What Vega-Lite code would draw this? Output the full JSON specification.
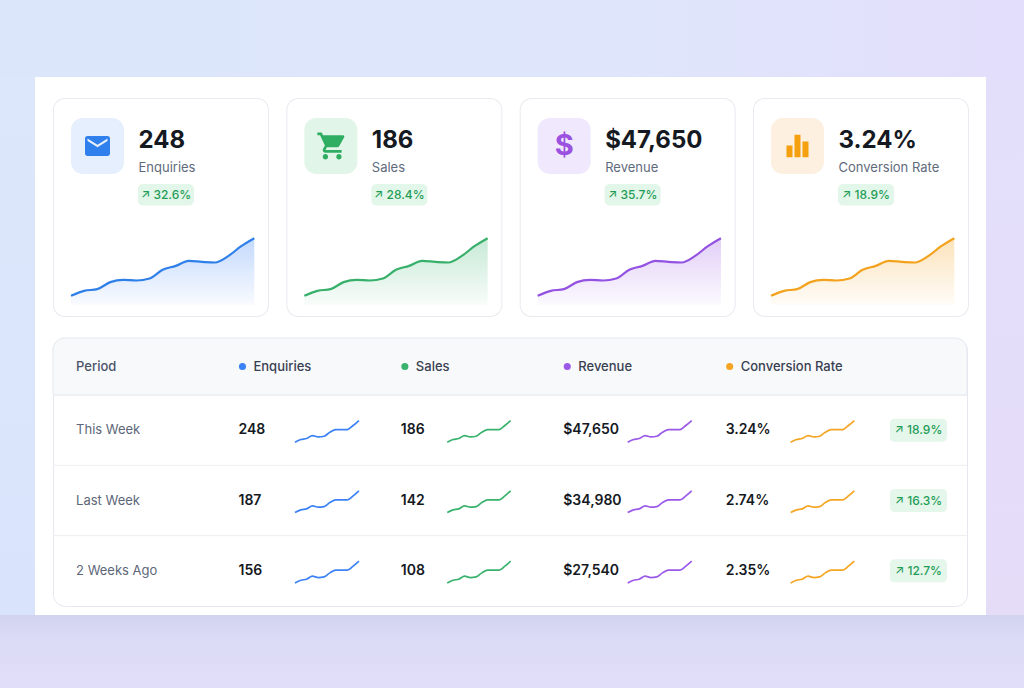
{
  "$schema": "https://vega.github.io/schema/vega-lite/v6.json",
  "padding": 0,
  "background": "#ffffff",
  "config": {"view": {"stroke": null}, "font": "Inter"},
  "datasets": {
    "kpi": [
      {"metric": "Enquiries", "value": "248", "change": "↗ 32.6%"},
      {"metric": "Sales", "value": "186", "change": "↗ 28.4%"},
      {"metric": "Revenue", "value": "$47,650", "change": "↗ 35.7%"},
      {"metric": "Conversion Rate", "value": "3.24%", "change": "↗ 18.9%"}
    ],
    "weekly": [
      {"period": "This Week", "Enquiries": "248", "Sales": "186", "Revenue": "$47,650", "Conversion Rate": "3.24%", "change": "↗ 18.9%"},
      {"period": "Last Week", "Enquiries": "187", "Sales": "142", "Revenue": "$34,980", "Conversion Rate": "2.74%", "change": "↗ 16.3%"},
      {"period": "2 Weeks Ago", "Enquiries": "156", "Sales": "108", "Revenue": "$27,540", "Conversion Rate": "2.35%", "change": "↗ 12.7%"}
    ],
    "trend": [
      {"metric": "Enquiries", "i": 0, "v": 27}, {"metric": "Enquiries", "i": 1, "v": 42}, {"metric": "Enquiries", "i": 2, "v": 47},
      {"metric": "Enquiries", "i": 3, "v": 68}, {"metric": "Enquiries", "i": 4, "v": 75}, {"metric": "Enquiries", "i": 5, "v": 73},
      {"metric": "Enquiries", "i": 6, "v": 79}, {"metric": "Enquiries", "i": 7, "v": 105}, {"metric": "Enquiries", "i": 8, "v": 117},
      {"metric": "Enquiries", "i": 9, "v": 132}, {"metric": "Enquiries", "i": 10, "v": 129}, {"metric": "Enquiries", "i": 11, "v": 127},
      {"metric": "Enquiries", "i": 12, "v": 146}, {"metric": "Enquiries", "i": 13, "v": 176}, {"metric": "Enquiries", "i": 14, "v": 200},
      {"metric": "Sales", "i": 0, "v": 27}, {"metric": "Sales", "i": 1, "v": 42}, {"metric": "Sales", "i": 2, "v": 47},
      {"metric": "Sales", "i": 3, "v": 68}, {"metric": "Sales", "i": 4, "v": 75}, {"metric": "Sales", "i": 5, "v": 73},
      {"metric": "Sales", "i": 6, "v": 79}, {"metric": "Sales", "i": 7, "v": 105}, {"metric": "Sales", "i": 8, "v": 117},
      {"metric": "Sales", "i": 9, "v": 132}, {"metric": "Sales", "i": 10, "v": 129}, {"metric": "Sales", "i": 11, "v": 127},
      {"metric": "Sales", "i": 12, "v": 146}, {"metric": "Sales", "i": 13, "v": 176}, {"metric": "Sales", "i": 14, "v": 200},
      {"metric": "Revenue", "i": 0, "v": 27}, {"metric": "Revenue", "i": 1, "v": 42}, {"metric": "Revenue", "i": 2, "v": 47},
      {"metric": "Revenue", "i": 3, "v": 68}, {"metric": "Revenue", "i": 4, "v": 75}, {"metric": "Revenue", "i": 5, "v": 73},
      {"metric": "Revenue", "i": 6, "v": 79}, {"metric": "Revenue", "i": 7, "v": 105}, {"metric": "Revenue", "i": 8, "v": 117},
      {"metric": "Revenue", "i": 9, "v": 132}, {"metric": "Revenue", "i": 10, "v": 129}, {"metric": "Revenue", "i": 11, "v": 127},
      {"metric": "Revenue", "i": 12, "v": 146}, {"metric": "Revenue", "i": 13, "v": 176}, {"metric": "Revenue", "i": 14, "v": 200},
      {"metric": "Conversion Rate", "i": 0, "v": 27}, {"metric": "Conversion Rate", "i": 1, "v": 42}, {"metric": "Conversion Rate", "i": 2, "v": 47},
      {"metric": "Conversion Rate", "i": 3, "v": 68}, {"metric": "Conversion Rate", "i": 4, "v": 75}, {"metric": "Conversion Rate", "i": 5, "v": 73},
      {"metric": "Conversion Rate", "i": 6, "v": 79}, {"metric": "Conversion Rate", "i": 7, "v": 105}, {"metric": "Conversion Rate", "i": 8, "v": 117},
      {"metric": "Conversion Rate", "i": 9, "v": 132}, {"metric": "Conversion Rate", "i": 10, "v": 129}, {"metric": "Conversion Rate", "i": 11, "v": 127},
      {"metric": "Conversion Rate", "i": 12, "v": 146}, {"metric": "Conversion Rate", "i": 13, "v": 176}, {"metric": "Conversion Rate", "i": 14, "v": 200}
    ],
    "weeklyTrend": [
      {"metric": "Enquiries", "i": 0, "This Week": 5, "Last Week": 5, "2 Weeks Ago": 5},
      {"metric": "Enquiries", "i": 1, "This Week": 13, "Last Week": 13, "2 Weeks Ago": 13},
      {"metric": "Enquiries", "i": 2, "This Week": 16, "Last Week": 16, "2 Weeks Ago": 16},
      {"metric": "Enquiries", "i": 3, "This Week": 25, "Last Week": 25, "2 Weeks Ago": 25},
      {"metric": "Enquiries", "i": 4, "This Week": 21, "Last Week": 21, "2 Weeks Ago": 21},
      {"metric": "Enquiries", "i": 5, "This Week": 23, "Last Week": 23, "2 Weeks Ago": 23},
      {"metric": "Enquiries", "i": 6, "This Week": 35, "Last Week": 35, "2 Weeks Ago": 35},
      {"metric": "Enquiries", "i": 7, "This Week": 43, "Last Week": 43, "2 Weeks Ago": 43},
      {"metric": "Enquiries", "i": 8, "This Week": 43, "Last Week": 43, "2 Weeks Ago": 43},
      {"metric": "Enquiries", "i": 9, "This Week": 43, "Last Week": 43, "2 Weeks Ago": 43},
      {"metric": "Enquiries", "i": 10, "This Week": 55, "Last Week": 55, "2 Weeks Ago": 55},
      {"metric": "Enquiries", "i": 11, "This Week": 70, "Last Week": 70, "2 Weeks Ago": 70},
      {"metric": "Sales", "i": 0, "This Week": 5, "Last Week": 5, "2 Weeks Ago": 5},
      {"metric": "Sales", "i": 1, "This Week": 13, "Last Week": 13, "2 Weeks Ago": 13},
      {"metric": "Sales", "i": 2, "This Week": 16, "Last Week": 16, "2 Weeks Ago": 16},
      {"metric": "Sales", "i": 3, "This Week": 25, "Last Week": 25, "2 Weeks Ago": 25},
      {"metric": "Sales", "i": 4, "This Week": 21, "Last Week": 21, "2 Weeks Ago": 21},
      {"metric": "Sales", "i": 5, "This Week": 23, "Last Week": 23, "2 Weeks Ago": 23},
      {"metric": "Sales", "i": 6, "This Week": 35, "Last Week": 35, "2 Weeks Ago": 35},
      {"metric": "Sales", "i": 7, "This Week": 43, "Last Week": 43, "2 Weeks Ago": 43},
      {"metric": "Sales", "i": 8, "This Week": 43, "Last Week": 43, "2 Weeks Ago": 43},
      {"metric": "Sales", "i": 9, "This Week": 43, "Last Week": 43, "2 Weeks Ago": 43},
      {"metric": "Sales", "i": 10, "This Week": 55, "Last Week": 55, "2 Weeks Ago": 55},
      {"metric": "Sales", "i": 11, "This Week": 70, "Last Week": 70, "2 Weeks Ago": 70},
      {"metric": "Revenue", "i": 0, "This Week": 5, "Last Week": 5, "2 Weeks Ago": 5},
      {"metric": "Revenue", "i": 1, "This Week": 13, "Last Week": 13, "2 Weeks Ago": 13},
      {"metric": "Revenue", "i": 2, "This Week": 16, "Last Week": 16, "2 Weeks Ago": 16},
      {"metric": "Revenue", "i": 3, "This Week": 25, "Last Week": 25, "2 Weeks Ago": 25},
      {"metric": "Revenue", "i": 4, "This Week": 21, "Last Week": 21, "2 Weeks Ago": 21},
      {"metric": "Revenue", "i": 5, "This Week": 23, "Last Week": 23, "2 Weeks Ago": 23},
      {"metric": "Revenue", "i": 6, "This Week": 35, "Last Week": 35, "2 Weeks Ago": 35},
      {"metric": "Revenue", "i": 7, "This Week": 43, "Last Week": 43, "2 Weeks Ago": 43},
      {"metric": "Revenue", "i": 8, "This Week": 43, "Last Week": 43, "2 Weeks Ago": 43},
      {"metric": "Revenue", "i": 9, "This Week": 43, "Last Week": 43, "2 Weeks Ago": 43},
      {"metric": "Revenue", "i": 10, "This Week": 55, "Last Week": 55, "2 Weeks Ago": 55},
      {"metric": "Revenue", "i": 11, "This Week": 70, "Last Week": 70, "2 Weeks Ago": 70},
      {"metric": "Conversion Rate", "i": 0, "This Week": 5, "Last Week": 5, "2 Weeks Ago": 5},
      {"metric": "Conversion Rate", "i": 1, "This Week": 13, "Last Week": 13, "2 Weeks Ago": 13},
      {"metric": "Conversion Rate", "i": 2, "This Week": 16, "Last Week": 16, "2 Weeks Ago": 16},
      {"metric": "Conversion Rate", "i": 3, "This Week": 25, "Last Week": 25, "2 Weeks Ago": 25},
      {"metric": "Conversion Rate", "i": 4, "This Week": 21, "Last Week": 21, "2 Weeks Ago": 21},
      {"metric": "Conversion Rate", "i": 5, "This Week": 23, "Last Week": 23, "2 Weeks Ago": 23},
      {"metric": "Conversion Rate", "i": 6, "This Week": 35, "Last Week": 35, "2 Weeks Ago": 35},
      {"metric": "Conversion Rate", "i": 7, "This Week": 43, "Last Week": 43, "2 Weeks Ago": 43},
      {"metric": "Conversion Rate", "i": 8, "This Week": 43, "Last Week": 43, "2 Weeks Ago": 43},
      {"metric": "Conversion Rate", "i": 9, "This Week": 43, "Last Week": 43, "2 Weeks Ago": 43},
      {"metric": "Conversion Rate", "i": 10, "This Week": 55, "Last Week": 55, "2 Weeks Ago": 55},
      {"metric": "Conversion Rate", "i": 11, "This Week": 70, "Last Week": 70, "2 Weeks Ago": 70}
    ]
  },
  "spacing": 0,
  "vconcat": [
    {
      "width": 1024, "height": 77,
      "data": {"values": [{}]},
      "mark": {"type": "rect", "color": {"gradient": "linear", "x1": 0, "y1": 0, "x2": 1, "y2": 0, "stops": [{"offset": 0, "color": "#dbe6fb"}, {"offset": 0.6, "color": "#dfe6fb"}, {"offset": 1, "color": "#e3defb"}]}}
    },
    {
      "spacing": 17,
      "hconcat": [
        {
          "width": 35, "height": 538,
          "data": {"values": [{}]},
          "mark": {"type": "rect", "color": {"gradient": "linear", "x1": 0, "y1": 0, "x2": 0, "y2": 1, "stops": [{"offset": 0, "color": "#dce7fb"}, {"offset": 1, "color": "#d9e3fb"}]}}
        },
        {
          "spacing": 0,
          "vconcat": [
            {"width": 1, "height": 20.5, "data": {"values": [{}]}, "mark": {"type": "rect", "opacity": 0}},
            {
              "spacing": 17.33,
              "hconcat": [
                {
                  "spacing": 0,
                  "vconcat": [
                    {"width": 216, "height": 12, "data": {"values": [{}]}, "mark": {"type": "point", "shape": "M -108 6 C -108 -0.63 -102.63 -6 -96 -6 L 96 -6 C 102.63 -6 108 -0.63 108 6 L 107 6 C 107 -0.08 102.08 -5 96 -5 L -96 -5 C -102.08 -5 -107 -0.08 -107 6 Z", "size": 4, "filled": true, "color": "#e7eaef", "opacity": 1}},
                    {
                      "spacing": 0,
                      "hconcat": [
                        {"width": 1, "height": 195, "data": {"values": [{}]}, "mark": {"type": "rect", "color": "#e7eaef"}},
                        {
                          "spacing": 0,
                          "vconcat": [
                            {"width": 214, "height": 1, "data": {"values": [{}]}, "mark": {"type": "rect", "opacity": 0}},
                            {
                              "spacing": 0,
                              "hconcat": [
                                {"width": 11.5, "height": 194, "data": {"values": [{}]}, "mark": {"type": "rect", "opacity": 0}},
                                {
                                  "spacing": 0,
                                  "vconcat": [
                                    {"width": 1, "height": 6.8, "data": {"values": [{}]}, "mark": {"type": "rect", "opacity": 0}},
                                    {
                                      "spacing": 27.2,
                                      "vconcat": [
                                        {
                                          "spacing": 14,
                                          "hconcat": [
                                            {
                                              "width": 53, "height": 56,
                                              "view": {"fill": "#e5effd", "cornerRadius": 12},
                                              "data": {"name": "kpi"},
                                              "transform": [{"filter": "datum.metric === 'Enquiries'"}],
                                              "mark": {"type": "point", "shape": "M 8 -8 H -8 C -9.1 -8 -9.99 -7.1 -9.99 -6 L -10 6 C -10 7.1 -9.1 8 -8 8 H 8 C 9.1 8 10 7.1 10 6 V -6 C 10 -7.1 9.1 -8 8 -8 Z M 8 -4 L 0 1 L -8 -4 L -8 -6 L 0 -1 L 8 -6 Z", "size": 6.25, "filled": true, "color": "#2f80ed", "opacity": 1}
                                            },
                                            {
                                              "spacing": 12, "bounds": "flush",
                                              "vconcat": [
                                                {"width": 1, "height": 22, "data": {"name": "kpi"}, "transform": [{"filter": "datum.metric === 'Enquiries'"}],
                                                 "mark": {"type": "text", "align": "left", "baseline": "top", "fontSize": 24, "fontWeight": 700, "color": "#151922"},
                                                 "encoding": {"text": {"field": "value"}}},
                                                {"width": 1, "height": 20, "data": {"name": "kpi"}, "transform": [{"filter": "datum.metric === 'Enquiries'"}],
                                                 "mark": {"type": "text", "align": "left", "baseline": "top", "fontSize": 13, "color": "#5f6b7d"},
                                                 "encoding": {"text": {"field": "metric"}}},
                                                {"width": 56, "height": 21.5, "view": {"fill": "#e3f6ea", "cornerRadius": 5}, "data": {"name": "kpi"}, "transform": [{"filter": "datum.metric === 'Enquiries'"}],
                                                 "mark": {"type": "text", "align": "center", "baseline": "middle", "fontSize": 12, "fontWeight": 500, "color": "#1f9d57"},
                                                 "encoding": {"text": {"field": "change"}}}
                                              ]
                                            }
                                          ]
                                        },
                                        {
                                          "width": 183.3, "height": 66.6,
                                          "data": {"name": "trend"},
                                          "transform": [{"filter": "datum.metric === 'Enquiries'"}],
                                          "encoding": {
                                            "x": {"field": "i", "type": "quantitative", "scale": {"domain": [0, 14], "nice": false}, "axis": null},
                                            "y": {"field": "v", "type": "quantitative", "scale": {"domain": [0, 200], "nice": false}, "axis": null}
                                          },
                                          "layer": [
                                            {"mark": {"type": "area", "interpolate": "monotone", "color": {"gradient": "linear", "x1": 0, "y1": 0, "x2": 0, "y2": 1, "stops": [{"offset": 0, "color": "rgba(59,130,246,0.30)"}, {"offset": 1, "color": "rgba(59,130,246,0.03)"}]}}},
                                            {"mark": {"type": "line", "interpolate": "monotone", "color": "#2f7fe8", "strokeWidth": 2.2}}
                                          ]
                                        }
                                      ]
                                    }
                                  ]
                                }
                              ]
                            }
                          ]
                        },
                        {"width": 1, "height": 195, "data": {"values": [{}]}, "mark": {"type": "rect", "color": "#e7eaef"}}
                      ]
                    },
                    {"width": 216, "height": 12, "data": {"values": [{}]}, "mark": {"type": "point", "shape": "M -108 -6 C -108 0.63 -102.63 6 -96 6 L 96 6 C 102.63 6 108 0.63 108 -6 L 107 -6 C 107 0.08 102.08 5 96 5 L -96 5 C -102.08 5 -107 0.08 -107 -6 Z", "size": 4, "filled": true, "color": "#e7eaef", "opacity": 1}}
                  ]
                },
                {
                  "spacing": 0,
                  "vconcat": [
                    {"width": 216, "height": 12, "data": {"values": [{}]}, "mark": {"type": "point", "shape": "M -108 6 C -108 -0.63 -102.63 -6 -96 -6 L 96 -6 C 102.63 -6 108 -0.63 108 6 L 107 6 C 107 -0.08 102.08 -5 96 -5 L -96 -5 C -102.08 -5 -107 -0.08 -107 6 Z", "size": 4, "filled": true, "color": "#e7eaef", "opacity": 1}},
                    {
                      "spacing": 0,
                      "hconcat": [
                        {"width": 1, "height": 195, "data": {"values": [{}]}, "mark": {"type": "rect", "color": "#e7eaef"}},
                        {
                          "spacing": 0,
                          "vconcat": [
                            {"width": 214, "height": 1, "data": {"values": [{}]}, "mark": {"type": "rect", "opacity": 0}},
                            {
                              "spacing": 0,
                              "hconcat": [
                                {"width": 11.5, "height": 194, "data": {"values": [{}]}, "mark": {"type": "rect", "opacity": 0}},
                                {
                                  "spacing": 0,
                                  "vconcat": [
                                    {"width": 1, "height": 6.8, "data": {"values": [{}]}, "mark": {"type": "rect", "opacity": 0}},
                                    {
                                      "spacing": 27.2,
                                      "vconcat": [
                                        {
                                          "spacing": 14,
                                          "hconcat": [
                                            {
                                              "width": 53, "height": 56,
                                              "view": {"fill": "#e2f5e9", "cornerRadius": 12},
                                              "data": {"name": "kpi"},
                                              "transform": [{"filter": "datum.metric === 'Sales'"}],
                                              "mark": {"type": "point", "shape": "M -4 6 C -5.1 6 -5.99 6.9 -5.99 8 C -5.99 9.1 -5.1 10 -4 10 C -2.9 10 -2 9.1 -2 8 C -2 6.9 -2.9 6 -4 6 Z M -10 -10 V -8 H -8 L -4.4 -0.41 L -5.75 2.04 C -5.91 2.32 -6 2.65 -6 3 C -6 4.1 -5.1 5 -4 5 H 8 V 3 H -3.58 C -3.72 3 -3.83 2.89 -3.83 2.75 L -3.8 2.63 L -2.9 1 H 4.55 C 5.3 1 5.96 0.59 6.3 -0.03 L 9.88 -6.52 C 9.96 -6.66 10 -6.83 10 -7 C 10 -7.55 9.55 -8 9 -8 H -5.79 L -6.73 -10 H -10 Z M 6 6 C 4.9 6 4.01 6.9 4.01 8 C 4.01 9.1 4.9 10 6 10 C 7.1 10 8 9.1 8 8 C 8 6.9 7.1 6 6 6 Z", "size": 7.29, "filled": true, "color": "#2fae62", "opacity": 1}
                                            },
                                            {
                                              "spacing": 12, "bounds": "flush",
                                              "vconcat": [
                                                {"width": 1, "height": 22, "data": {"name": "kpi"}, "transform": [{"filter": "datum.metric === 'Sales'"}],
                                                 "mark": {"type": "text", "align": "left", "baseline": "top", "fontSize": 24, "fontWeight": 700, "color": "#151922"},
                                                 "encoding": {"text": {"field": "value"}}},
                                                {"width": 1, "height": 20, "data": {"name": "kpi"}, "transform": [{"filter": "datum.metric === 'Sales'"}],
                                                 "mark": {"type": "text", "align": "left", "baseline": "top", "fontSize": 13, "color": "#5f6b7d"},
                                                 "encoding": {"text": {"field": "metric"}}},
                                                {"width": 56, "height": 21.5, "view": {"fill": "#e3f6ea", "cornerRadius": 5}, "data": {"name": "kpi"}, "transform": [{"filter": "datum.metric === 'Sales'"}],
                                                 "mark": {"type": "text", "align": "center", "baseline": "middle", "fontSize": 12, "fontWeight": 500, "color": "#1f9d57"},
                                                 "encoding": {"text": {"field": "change"}}}
                                              ]
                                            }
                                          ]
                                        },
                                        {
                                          "width": 183.3, "height": 66.6,
                                          "data": {"name": "trend"},
                                          "transform": [{"filter": "datum.metric === 'Sales'"}],
                                          "encoding": {
                                            "x": {"field": "i", "type": "quantitative", "scale": {"domain": [0, 14], "nice": false}, "axis": null},
                                            "y": {"field": "v", "type": "quantitative", "scale": {"domain": [0, 200], "nice": false}, "axis": null}
                                          },
                                          "layer": [
                                            {"mark": {"type": "area", "interpolate": "monotone", "color": {"gradient": "linear", "x1": 0, "y1": 0, "x2": 0, "y2": 1, "stops": [{"offset": 0, "color": "rgba(54,176,106,0.28)"}, {"offset": 1, "color": "rgba(54,176,106,0.03)"}]}}},
                                            {"mark": {"type": "line", "interpolate": "monotone", "color": "#36b06a", "strokeWidth": 2.2}}
                                          ]
                                        }
                                      ]
                                    }
                                  ]
                                }
                              ]
                            }
                          ]
                        },
                        {"width": 1, "height": 195, "data": {"values": [{}]}, "mark": {"type": "rect", "color": "#e7eaef"}}
                      ]
                    },
                    {"width": 216, "height": 12, "data": {"values": [{}]}, "mark": {"type": "point", "shape": "M -108 -6 C -108 0.63 -102.63 6 -96 6 L 96 6 C 102.63 6 108 0.63 108 -6 L 107 -6 C 107 0.08 102.08 5 96 5 L -96 5 C -102.08 5 -107 0.08 -107 -6 Z", "size": 4, "filled": true, "color": "#e7eaef", "opacity": 1}}
                  ]
                },
                {
                  "spacing": 0,
                  "vconcat": [
                    {"width": 216, "height": 12, "data": {"values": [{}]}, "mark": {"type": "point", "shape": "M -108 6 C -108 -0.63 -102.63 -6 -96 -6 L 96 -6 C 102.63 -6 108 -0.63 108 6 L 107 6 C 107 -0.08 102.08 -5 96 -5 L -96 -5 C -102.08 -5 -107 -0.08 -107 6 Z", "size": 4, "filled": true, "color": "#e7eaef", "opacity": 1}},
                    {
                      "spacing": 0,
                      "hconcat": [
                        {"width": 1, "height": 195, "data": {"values": [{}]}, "mark": {"type": "rect", "color": "#e7eaef"}},
                        {
                          "spacing": 0,
                          "vconcat": [
                            {"width": 214, "height": 1, "data": {"values": [{}]}, "mark": {"type": "rect", "opacity": 0}},
                            {
                              "spacing": 0,
                              "hconcat": [
                                {"width": 11.5, "height": 194, "data": {"values": [{}]}, "mark": {"type": "rect", "opacity": 0}},
                                {
                                  "spacing": 0,
                                  "vconcat": [
                                    {"width": 1, "height": 6.8, "data": {"values": [{}]}, "mark": {"type": "rect", "opacity": 0}},
                                    {
                                      "spacing": 27.2,
                                      "vconcat": [
                                        {
                                          "spacing": 14,
                                          "hconcat": [
                                            {
                                              "width": 53, "height": 56,
                                              "view": {"fill": "#f0e9fd", "cornerRadius": 12},
                                              "data": {"name": "kpi"},
                                              "transform": [{"filter": "datum.metric === 'Revenue'"}],
                                              "mark": {"type": "text", "text": "$", "align": "center", "baseline": "middle", "fontSize": 29, "fontWeight": 700, "color": "#9b51e0"}
                                            },
                                            {
                                              "spacing": 12, "bounds": "flush",
                                              "vconcat": [
                                                {"width": 1, "height": 22, "data": {"name": "kpi"}, "transform": [{"filter": "datum.metric === 'Revenue'"}],
                                                 "mark": {"type": "text", "align": "left", "baseline": "top", "fontSize": 24, "fontWeight": 700, "color": "#151922"},
                                                 "encoding": {"text": {"field": "value"}}},
                                                {"width": 1, "height": 20, "data": {"name": "kpi"}, "transform": [{"filter": "datum.metric === 'Revenue'"}],
                                                 "mark": {"type": "text", "align": "left", "baseline": "top", "fontSize": 13, "color": "#5f6b7d"},
                                                 "encoding": {"text": {"field": "metric"}}},
                                                {"width": 56, "height": 21.5, "view": {"fill": "#e3f6ea", "cornerRadius": 5}, "data": {"name": "kpi"}, "transform": [{"filter": "datum.metric === 'Revenue'"}],
                                                 "mark": {"type": "text", "align": "center", "baseline": "middle", "fontSize": 12, "fontWeight": 500, "color": "#1f9d57"},
                                                 "encoding": {"text": {"field": "change"}}}
                                              ]
                                            }
                                          ]
                                        },
                                        {
                                          "width": 183.3, "height": 66.6,
                                          "data": {"name": "trend"},
                                          "transform": [{"filter": "datum.metric === 'Revenue'"}],
                                          "encoding": {
                                            "x": {"field": "i", "type": "quantitative", "scale": {"domain": [0, 14], "nice": false}, "axis": null},
                                            "y": {"field": "v", "type": "quantitative", "scale": {"domain": [0, 200], "nice": false}, "axis": null}
                                          },
                                          "layer": [
                                            {"mark": {"type": "area", "interpolate": "monotone", "color": {"gradient": "linear", "x1": 0, "y1": 0, "x2": 0, "y2": 1, "stops": [{"offset": 0, "color": "rgba(148,82,227,0.28)"}, {"offset": 1, "color": "rgba(148,82,227,0.03)"}]}}},
                                            {"mark": {"type": "line", "interpolate": "monotone", "color": "#9452e3", "strokeWidth": 2.2}}
                                          ]
                                        }
                                      ]
                                    }
                                  ]
                                }
                              ]
                            }
                          ]
                        },
                        {"width": 1, "height": 195, "data": {"values": [{}]}, "mark": {"type": "rect", "color": "#e7eaef"}}
                      ]
                    },
                    {"width": 216, "height": 12, "data": {"values": [{}]}, "mark": {"type": "point", "shape": "M -108 -6 C -108 0.63 -102.63 6 -96 6 L 96 6 C 102.63 6 108 0.63 108 -6 L 107 -6 C 107 0.08 102.08 5 96 5 L -96 5 C -102.08 5 -107 0.08 -107 -6 Z", "size": 4, "filled": true, "color": "#e7eaef", "opacity": 1}}
                  ]
                },
                {
                  "spacing": 0,
                  "vconcat": [
                    {"width": 216, "height": 12, "data": {"values": [{}]}, "mark": {"type": "point", "shape": "M -108 6 C -108 -0.63 -102.63 -6 -96 -6 L 96 -6 C 102.63 -6 108 -0.63 108 6 L 107 6 C 107 -0.08 102.08 -5 96 -5 L -96 -5 C -102.08 -5 -107 -0.08 -107 6 Z", "size": 4, "filled": true, "color": "#e7eaef", "opacity": 1}},
                    {
                      "spacing": 0,
                      "hconcat": [
                        {"width": 1, "height": 195, "data": {"values": [{}]}, "mark": {"type": "rect", "color": "#e7eaef"}},
                        {
                          "spacing": 0,
                          "vconcat": [
                            {"width": 214, "height": 1, "data": {"values": [{}]}, "mark": {"type": "rect", "opacity": 0}},
                            {
                              "spacing": 0,
                              "hconcat": [
                                {"width": 11.5, "height": 194, "data": {"values": [{}]}, "mark": {"type": "rect", "opacity": 0}},
                                {
                                  "spacing": 0,
                                  "vconcat": [
                                    {"width": 1, "height": 6.8, "data": {"values": [{}]}, "mark": {"type": "rect", "opacity": 0}},
                                    {
                                      "spacing": 27.2,
                                      "vconcat": [
                                        {
                                          "spacing": 14,
                                          "hconcat": [
                                            {
                                              "width": 53, "height": 56,
                                              "view": {"fill": "#fdf0e0", "cornerRadius": 12},
                                              "data": {"name": "kpi"},
                                              "transform": [{"filter": "datum.metric === 'Conversion Rate'"}],
                                              "mark": {"type": "point", "shape": "M -11 -0.5 H -5 V 11.2 H -11 Z M -3 -11.2 H 3 V 11.2 H -3 Z M 5 -4.5 H 11 V 11.2 H 5 Z", "size": 4, "filled": true, "color": "#f5a00f", "opacity": 1}
                                            },
                                            {
                                              "spacing": 12, "bounds": "flush",
                                              "vconcat": [
                                                {"width": 1, "height": 22, "data": {"name": "kpi"}, "transform": [{"filter": "datum.metric === 'Conversion Rate'"}],
                                                 "mark": {"type": "text", "align": "left", "baseline": "top", "fontSize": 24, "fontWeight": 700, "color": "#151922"},
                                                 "encoding": {"text": {"field": "value"}}},
                                                {"width": 1, "height": 20, "data": {"name": "kpi"}, "transform": [{"filter": "datum.metric === 'Conversion Rate'"}],
                                                 "mark": {"type": "text", "align": "left", "baseline": "top", "fontSize": 13, "color": "#5f6b7d"},
                                                 "encoding": {"text": {"field": "metric"}}},
                                                {"width": 56, "height": 21.5, "view": {"fill": "#e3f6ea", "cornerRadius": 5}, "data": {"name": "kpi"}, "transform": [{"filter": "datum.metric === 'Conversion Rate'"}],
                                                 "mark": {"type": "text", "align": "center", "baseline": "middle", "fontSize": 12, "fontWeight": 500, "color": "#1f9d57"},
                                                 "encoding": {"text": {"field": "change"}}}
                                              ]
                                            }
                                          ]
                                        },
                                        {
                                          "width": 183.3, "height": 66.6,
                                          "data": {"name": "trend"},
                                          "transform": [{"filter": "datum.metric === 'Conversion Rate'"}],
                                          "encoding": {
                                            "x": {"field": "i", "type": "quantitative", "scale": {"domain": [0, 14], "nice": false}, "axis": null},
                                            "y": {"field": "v", "type": "quantitative", "scale": {"domain": [0, 200], "nice": false}, "axis": null}
                                          },
                                          "layer": [
                                            {"mark": {"type": "area", "interpolate": "monotone", "color": {"gradient": "linear", "x1": 0, "y1": 0, "x2": 0, "y2": 1, "stops": [{"offset": 0, "color": "rgba(243,162,29,0.30)"}, {"offset": 1, "color": "rgba(243,162,29,0.03)"}]}}},
                                            {"mark": {"type": "line", "interpolate": "monotone", "color": "#f3a21d", "strokeWidth": 2.2}}
                                          ]
                                        }
                                      ]
                                    }
                                  ]
                                }
                              ]
                            }
                          ]
                        },
                        {"width": 1, "height": 195, "data": {"values": [{}]}, "mark": {"type": "rect", "color": "#e7eaef"}}
                      ]
                    },
                    {"width": 216, "height": 12, "data": {"values": [{}]}, "mark": {"type": "point", "shape": "M -108 -6 C -108 0.63 -102.63 6 -96 6 L 96 6 C 102.63 6 108 0.63 108 -6 L 107 -6 C 107 0.08 102.08 5 96 5 L -96 5 C -102.08 5 -107 0.08 -107 -6 Z", "size": 4, "filled": true, "color": "#e7eaef", "opacity": 1}}
                  ]
                }
              ]
            },
            {"width": 1, "height": 20, "data": {"values": [{}]}, "mark": {"type": "rect", "opacity": 0}},
            {
              "width": 914, "height": 268,
              "view": {"fill": "#ffffff", "stroke": "#e5e8ee", "cornerRadius": 12},
              "resolve": {"scale": {"y": "independent", "yOffset": "independent", "xOffset": "independent"}},
              "layer": [
                {
                  "encoding": {
                    "y": {"datum": "header", "type": "nominal", "scale": {"type": "band", "domain": ["header"], "paddingInner": 0.4597, "paddingOuter": 1, "align": 0}, "axis": null}
                  },
                  "layer": [
                    {"data": {"values": [{"row": "header"}]},
                     "mark": {"type": "rect", "fill": "#f8f9fb", "stroke": "#e5e8ee", "strokeWidth": 1, "cornerRadiusTopLeft": 12, "cornerRadiusTopRight": 12},
                     "encoding": {"y": {"field": "row", "type": "nominal", "axis": null}}},
                    {"data": {"values": [{"column": "Period"}]},
                     "mark": {"type": "text", "align": "left", "baseline": "middle", "fontSize": 13, "fontWeight": 500, "color": "#4a5467"},
                     "encoding": {
                       "x": {"field": "column", "type": "nominal", "scale": {"type": "band", "domain": ["Period", "Enquiries", "Sales", "Revenue", "Conversion Rate", "Change"], "paddingInner": 0.626, "paddingOuter": 0.127, "align": 0.559}, "bandPosition": 0, "axis": null},
                       "text": {"field": "column"}
                     }},
                    {"data": {"name": "kpi"},
                     "mark": {"type": "circle", "size": 50, "opacity": 1, "xOffset": 4},
                     "encoding": {
                       "x": {"field": "metric", "type": "nominal", "scale": {"type": "band", "domain": ["Period", "Enquiries", "Sales", "Revenue", "Conversion Rate", "Change"], "paddingInner": 0.626, "paddingOuter": 0.127, "align": 0.559}, "bandPosition": 0, "axis": null},
                       "color": {"field": "metric", "type": "nominal", "scale": {"domain": ["Enquiries", "Sales", "Revenue", "Conversion Rate"], "range": ["#3b82f6", "#38b26c", "#9b59e8", "#f5a524"]}, "legend": null}
                     }},
                    {"data": {"name": "kpi"},
                     "mark": {"type": "text", "align": "left", "baseline": "middle", "dx": 15, "fontSize": 13, "fontWeight": 500, "color": "#384152"},
                     "encoding": {
                       "x": {"field": "metric", "type": "nominal", "scale": {"type": "band", "domain": ["Period", "Enquiries", "Sales", "Revenue", "Conversion Rate", "Change"], "paddingInner": 0.626, "paddingOuter": 0.127, "align": 0.559}, "bandPosition": 0, "axis": null},
                       "text": {"field": "metric"}
                     }}
                  ]
                },
                {
                  "encoding": {
                    "y": {"field": "period", "type": "nominal", "scale": {"type": "band", "domain": ["This Week", "Last Week", "2 Weeks Ago"], "paddingInner": 0, "paddingOuter": 0.40525, "align": 1}, "axis": null}
                  },
                  "layer": [
                    {"data": {"name": "weekly"},
                     "mark": {"type": "rule", "color": "#eceef2", "strokeWidth": 1},
                     "encoding": {"y": {"field": "period", "type": "nominal", "bandPosition": 0, "axis": null}}},
                    {"data": {"name": "weekly"},
                     "mark": {"type": "text", "align": "left", "baseline": "middle", "fontSize": 13, "color": "#5d6779"},
                     "encoding": {
                       "x": {"datum": "Period", "type": "nominal", "scale": {"type": "band", "domain": ["Period", "Enquiries", "Sales", "Revenue", "Conversion Rate", "Change"], "paddingInner": 0.626, "paddingOuter": 0.127, "align": 0.559}, "bandPosition": 0, "axis": null},
                       "text": {"field": "period"}
                     }},
                    {"data": {"name": "weekly"},
                     "transform": [{"fold": ["Enquiries", "Sales", "Revenue", "Conversion Rate"], "as": ["metric", "value"]}],
                     "mark": {"type": "text", "align": "left", "baseline": "middle", "fontSize": 14, "fontWeight": 600, "color": "#151922"},
                     "encoding": {
                       "x": {"field": "metric", "type": "nominal", "scale": {"type": "band", "domain": ["Period", "Enquiries", "Sales", "Revenue", "Conversion Rate", "Change"], "paddingInner": 0.626, "paddingOuter": 0.127, "align": 0.559}, "bandPosition": 0, "axis": null},
                       "text": {"field": "value"}
                     }},
                    {"data": {"name": "weeklyTrend"},
                     "transform": [{"fold": ["This Week", "Last Week", "2 Weeks Ago"], "as": ["period", "v"]}],
                     "resolve": {"scale": {"xOffset": "independent"}},
                     "encoding": {
                       "x": {"field": "metric", "type": "nominal", "scale": {"type": "band", "domain": ["Period", "Enquiries", "Sales", "Revenue", "Conversion Rate", "Change"], "paddingInner": 0.626, "paddingOuter": 0.127, "align": 0.559}, "axis": null},
                       "yOffset": {"field": "v", "type": "quantitative", "scale": {"domain": [0, 75], "range": [48.9, 23.85]}},
                       "color": {"field": "metric", "type": "nominal", "scale": {"domain": ["Enquiries", "Sales", "Revenue", "Conversion Rate"], "range": ["#3b82f6", "#38b26c", "#9b59e8", "#f5a524"]}, "legend": null},
                       "detail": {"field": "period"},
                       "order": {"field": "i", "type": "quantitative"}
                     },
                     "layer": [
                       {"transform": [{"filter": "datum.metric === 'Enquiries'"}],
                        "mark": {"type": "line", "strokeWidth": 1.7, "interpolate": "monotone"},
                        "encoding": {"xOffset": {"field": "i", "type": "quantitative", "scale": {"domain": [0, 11], "range": [56.5, 120.5]}}}},
                       {"transform": [{"filter": "datum.metric === 'Sales'"}],
                        "mark": {"type": "line", "strokeWidth": 1.7, "interpolate": "monotone"},
                        "encoding": {"xOffset": {"field": "i", "type": "quantitative", "scale": {"domain": [0, 11], "range": [46.4, 109.8]}}}},
                       {"transform": [{"filter": "datum.metric === 'Revenue'"}],
                        "mark": {"type": "line", "strokeWidth": 1.7, "interpolate": "monotone"},
                        "encoding": {"xOffset": {"field": "i", "type": "quantitative", "scale": {"domain": [0, 11], "range": [64.4, 128.4]}}}},
                       {"transform": [{"filter": "datum.metric === 'Conversion Rate'"}],
                        "mark": {"type": "line", "strokeWidth": 1.7, "interpolate": "monotone"},
                        "encoding": {"xOffset": {"field": "i", "type": "quantitative", "scale": {"domain": [0, 11], "range": [65, 128.6]}}}}
                     ]},
                    {"data": {"name": "weekly"},
                     "mark": {"type": "point", "shape": "M -23.5 -11.5 H 23.5 Q 28.5 -11.5 28.5 -6.5 V 6.5 Q 28.5 11.5 23.5 11.5 H -23.5 Q -28.5 11.5 -28.5 6.5 V -6.5 Q -28.5 -11.5 -23.5 -11.5 Z", "size": 4, "filled": true, "color": "#e5f6eb", "opacity": 1},
                     "encoding": {
                       "x": {"datum": "Change", "type": "nominal", "scale": {"type": "band", "domain": ["Period", "Enquiries", "Sales", "Revenue", "Conversion Rate", "Change"], "paddingInner": 0.626, "paddingOuter": 0.127, "align": 0.559}, "axis": null}
                     }},
                    {"data": {"name": "weekly"},
                     "mark": {"type": "text", "align": "center", "baseline": "middle", "fontSize": 12, "fontWeight": 500, "color": "#1f9d57"},
                     "encoding": {
                       "x": {"datum": "Change", "type": "nominal", "scale": {"type": "band", "domain": ["Period", "Enquiries", "Sales", "Revenue", "Conversion Rate", "Change"], "paddingInner": 0.626, "paddingOuter": 0.127, "align": 0.559}, "axis": null},
                       "text": {"field": "change"}
                     }}
                  ]
                }
              ]
            }
          ]
        },
        {
          "width": 39, "height": 538,
          "data": {"values": [{}]},
          "mark": {"type": "rect", "color": {"gradient": "linear", "x1": 0, "y1": 0, "x2": 0, "y2": 1, "stops": [{"offset": 0, "color": "#e3dffb"}, {"offset": 1, "color": "#e5dcf8"}]}}
        }
      ]
    },
    {
      "width": 1024, "height": 73,
      "data": {"values": [{}]},
      "mark": {"type": "rect", "color": {"gradient": "linear", "x1": 0, "y1": 0, "x2": 0, "y2": 1, "stops": [{"offset": 0, "color": "#d2d3ef"}, {"offset": 0.35, "color": "#dbdbf6"}, {"offset": 1, "color": "#e1def9"}]}}
    }
  ]
}
